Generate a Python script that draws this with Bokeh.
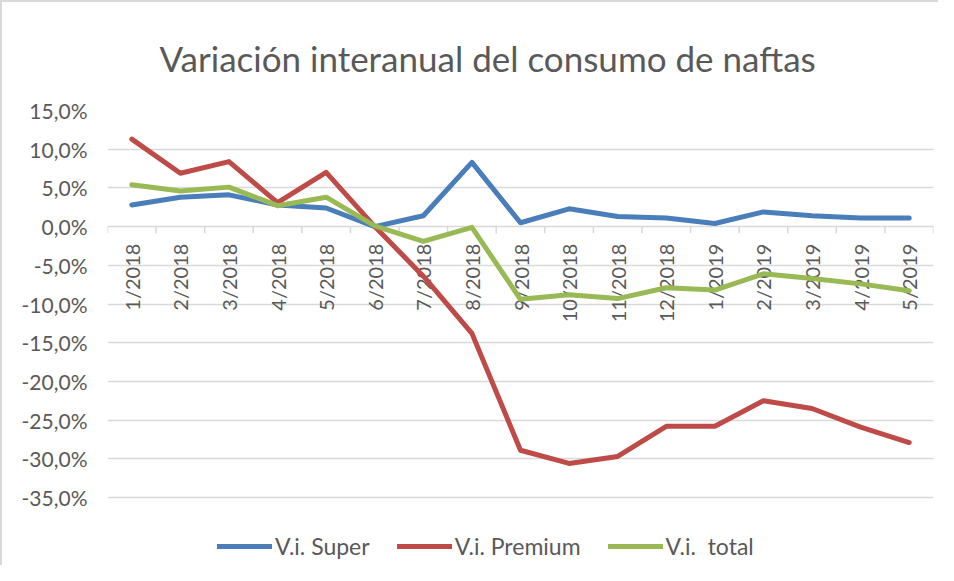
import math
from bokeh.plotting import figure
from bokeh.models import (ColumnDataSource, FixedTicker, CustomJSTickFormatter,
                          Legend, LegendItem, Range1d)
from bokeh.core.properties import value
from bokeh.embed import file_html
from bokeh.resources import INLINE

# ---- data ----
months = ["1/2018", "2/2018", "3/2018", "4/2018", "5/2018", "6/2018", "7/2018",
          "8/2018", "9/2018", "10/2018", "11/2018", "12/2018", "1/2019", "2/2019",
          "3/2019", "4/2019", "5/2019"]
vi_super = [2.8, 3.8, 4.1, 2.8, 2.4, 0.0, 1.4, 8.3, 0.5, 2.3, 1.3, 1.1, 0.4, 1.9, 1.4, 1.1, 1.1]
vi_premium = [11.3, 6.9, 8.4, 3.1, 7.0, 0.0, -6.4, -13.8, -28.9, -30.6, -29.7, -25.8, -25.8,
              -22.5, -23.5, -25.9, -27.9]
vi_total = [5.4, 4.6, 5.1, 2.7, 3.8, 0.1, -1.9, -0.1, -9.4, -8.8, -9.3, -7.9, -8.2, -6.1,
            -6.7, -7.4, -8.3]
y_ticks = [-35, -30, -25, -20, -15, -10, -5, 0, 5, 10, 15]
series_names = ["V.i. Super", "V.i. Premium", "V.i.  total"]
series_colors = ["#4A7EBB", "#BE4B48", "#98B954"]

GREY = "#595959"
GRID = "#D9D9D9"
FONT = "Lato"

n = len(months)
xs = [i + 0.5 for i in range(n)]

# frame spans the plotting area plus the legend strip below it
FRAME_TOP = 108
FRAME_BOTTOM = 562
PX_PER_UNIT = 387.0 / (y_ticks[-1] - y_ticks[0])
y_low = y_ticks[-1] - (FRAME_BOTTOM - FRAME_TOP) / PX_PER_UNIT

p = figure(width=938, height=565, output_backend="svg", toolbar_location=None,
           x_range=Range1d(0, n), y_range=Range1d(y_low, y_ticks[-1]))
p.min_border_left = 105
p.min_border_right = 7
p.min_border_top = FRAME_TOP
p.min_border_bottom = 565 - FRAME_BOTTOM
p.outline_line_color = None
p.background_fill_color = "white"
p.border_fill_color = "white"
p.styles = {"border-top": "2px solid #D9D9D9", "border-left": "2px solid #D9D9D9"}

# title
p.title.text = "Variación interanual del consumo de naftas"
p.title.align = "left"
p.title.text_font = FONT
p.title.text_font_size = "35px"
p.title.text_font_style = "normal"
p.title.text_color = GREY
p.title.standoff = 63
p.title.offset = 52

# axes
p.xaxis.visible = False
p.xgrid.visible = False
yax = p.yaxis[0]
yax.ticker = FixedTicker(ticks=y_ticks)
yax.formatter = CustomJSTickFormatter(code="return tick.toFixed(1).replace('.', ',') + '%';")
yax.axis_line_color = None
yax.major_tick_line_color = None
yax.minor_tick_line_color = None
yax.major_tick_out = 0
yax.major_tick_in = 0
yax.major_label_standoff = 20
yax.major_label_text_font = FONT
yax.major_label_text_font_size = "21px"
yax.major_label_text_color = GREY
p.ygrid.ticker = FixedTicker(ticks=y_ticks)
p.ygrid.grid_line_color = GRID
p.ygrid.grid_line_width = 1.5

# category tick marks along the zero line
bounds = list(range(n + 1))
p.segment(x0=bounds, y0=[0] * len(bounds), x1=bounds, y1=[-0.85] * len(bounds),
          line_color=GRID, line_width=1.5)

# category labels (rotated) hanging below zero line
lab_src = ColumnDataSource(dict(x=xs, y=[0] * n, text=months))
p.text(x="x", y="y", text="text", source=lab_src, angle=math.pi / 2,
       text_align="right", text_baseline="middle", y_offset=17,
       text_font=value(FONT), text_font_size="20px", text_color=GREY)

# series
renderers = []
for vals, col in zip([vi_super, vi_premium, vi_total], series_colors):
    r = p.line(xs, vals, line_color=col, line_width=5, line_cap="round",
               line_join="round")
    renderers.append(r)

legend = Legend(items=[LegendItem(label=nm, renderers=[r])
                       for nm, r in zip(series_names, renderers)],
                orientation="horizontal", location=(110, 4),
                glyph_width=55, glyph_height=22, label_standoff=3, spacing=27,
                padding=0, margin=0, border_line_alpha=0, background_fill_alpha=0,
                label_text_font=FONT, label_text_font_size="23px",
                label_text_color=GREY)
p.add_layout(legend)

open("out.html", "w").write(file_html(p, INLINE))
